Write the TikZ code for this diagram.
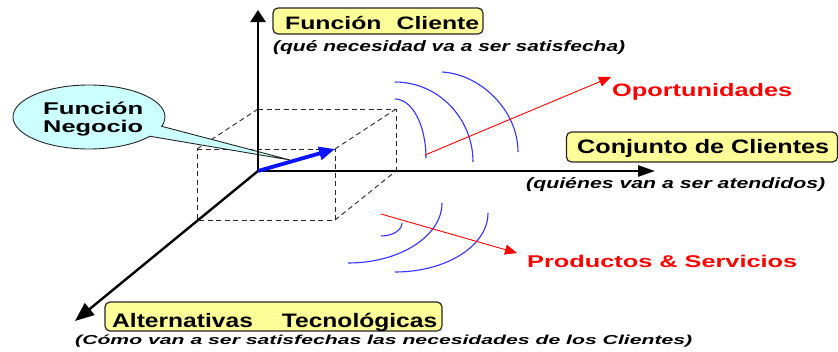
\documentclass[tikz,border=0pt]{standalone}
\usepackage{fontspec}
\setmainfont{Liberation Sans}
\usetikzlibrary{arrows.meta,shapes.callouts}
\newcommand\fitw[2]{\resizebox{#1}{\height}{#2}}
\definecolor{boxyellow}{HTML}{FFFF99}
\definecolor{callcyan}{HTML}{CCFFFF}
\definecolor{arcblue}{HTML}{3333FF}
\definecolor{vecblue}{HTML}{0A14FF}
\definecolor{lblred}{HTML}{FF0000}
\tikzset{
  axis/.style={line width=2.4pt, black},
  cubeline/.style={line width=0.9pt, black!85, dash pattern=on 5pt off 3.5pt},
  wave/.style={line width=1.1pt, arcblue},
  redarrow/.style={line width=0.9pt, lblred, -{Triangle[length=12pt,width=10pt]}},
  ybox/.style={draw=black!85, line width=1.2pt, fill=boxyellow, rounded corners=5pt, inner sep=0pt},
  txt/.style={inner sep=0pt, anchor=base west},
  notefont/.style={font=\fontsize{15}{16}\selectfont\bfseries\itshape},
  smallnote/.style={font=\fontsize{13}{14}\selectfont\bfseries\itshape},
  redfont/.style={text=lblred},
}
\begin{document}
\begin{tikzpicture}[x=1pt,y=-1pt]
\useasboundingbox (0,0) rectangle (838,351);

% coordinates
\coordinate (O) at (258,171);
\coordinate (ytip) at (258,10);
\coordinate (xtip) at (655,171);
\coordinate (ztip) at (75,321);
\coordinate (bt1) at (258,109);
\coordinate (bt2) at (396,109);
\coordinate (bb2) at (396,171);
\coordinate (ft1) at (197,149);
\coordinate (ft2) at (335,149);
\coordinate (fb1) at (197,220);
\coordinate (fb2) at (335,220);
\coordinate (ptip) at (290,160);
\coordinate (os) at (425,155);
\coordinate (oe) at (611,77);
\coordinate (ps) at (381,214);
\coordinate (pe) at (517,253);

% dashed cube
\draw[cubeline] (bt1) -- (bt2) -- (bb2);
\draw[cubeline] (ft1) -- (ft2) -- (fb2) -- (fb1) -- cycle;
\draw[cubeline] (ft1) -- (bt1);
\draw[cubeline] (ft2) -- (bt2);
\draw[cubeline] (fb2) -- (bb2);

% callout
\node[ellipse callout, draw=black!85, line width=0.9pt, fill=callcyan,
      minimum width=152pt, minimum height=64pt, inner sep=0pt,
      callout absolute pointer={(ptip)}, callout pointer arc=20] (negocio) at (89,117) {};
\node[txt, font=\fontsize{17}{19}\selectfont\bfseries] (neg1) at (43,114) {\fitw{100pt}{Función}};
\node[txt, font=\fontsize{17}{19}\selectfont\bfseries] (neg2) at (43,132) {\fitw{100pt}{Negocio}};

% axes
\draw[axis, -{Triangle[length=12pt,width=15pt]}] (O) -- (ytip);
\draw[axis, -{Triangle[length=17pt,width=11pt]}] (O) -- (xtip);
\draw[axis, -{Triangle[length=19pt,width=15pt]}] (O) -- (ztip);

% blue vector
\draw[line width=3.8pt, vecblue, -{Triangle[length=16pt,width=13pt]}] (O) -- (ft2);

% upper waves
\draw[wave] (395,99) .. controls (412,99) and (426,125) .. (426,158);
\draw[wave] (395,82) .. controls (438,82) and (473,118) .. (473,162);
\draw[wave] (442,72) .. controls (480,74) and (518,110) .. (518,152);
% lower waves
\draw[wave] (381,236) .. controls (393,236) and (402,230) .. (402,223);
\draw[wave] (348,263) .. controls (400,263) and (442,236) .. (442,203);
\draw[wave] (395,272) .. controls (446,272) and (488,246) .. (488,213);

% red arrows
\draw[redarrow] (os) -- (oe);
\draw[redarrow] (ps) -- (pe);
\node[txt, redfont, font=\fontsize{18}{20}\selectfont\bfseries] (oport) at (612,96) {\fitw{180pt}{Oportunidades}};
\node[txt, redfont, font=\fontsize{17}{19}\selectfont\bfseries] (prod) at (527,267) {\fitw{270pt}{Productos \& Servicios}};

% yellow boxes
\node[ybox, minimum width=210pt, minimum height=26pt] (fcbox) at (378,21) {};
\node[txt, font=\fontsize{18}{20}\selectfont\bfseries] (fctxt) at (285,29) {\fitw{194pt}{Función\hspace{11pt}Cliente}};
\node[notefont, txt] (fcnote) at (273,51) {\fitw{352pt}{(qué necesidad va a ser satisfecha)}};

\node[ybox, minimum width=271pt, minimum height=30pt] (ccbox) at (702,147) {};
\node[txt, font=\fontsize{19.5}{21}\selectfont\bfseries] (cctxt) at (577,153) {\fitw{252pt}{Conjunto de Clientes}};
\node[notefont, txt] (ccnote) at (526,188) {\fitw{299pt}{(quiénes van a ser atendidos)}};

\node[ybox, minimum width=337pt, minimum height=29pt] (atbox) at (273.5,316.5) {};
\node[txt, font=\fontsize{19.5}{21}\selectfont\bfseries] (attxt) at (112,327) {\fitw{325pt}{Alternativas\hspace{23pt}Tecnológicas}};
\node[smallnote, txt] (atnote) at (75,344) {\fitw{617pt}{(Cómo van a ser satisfechas las necesidades de los Clientes)}};
\end{tikzpicture}
\end{document}
